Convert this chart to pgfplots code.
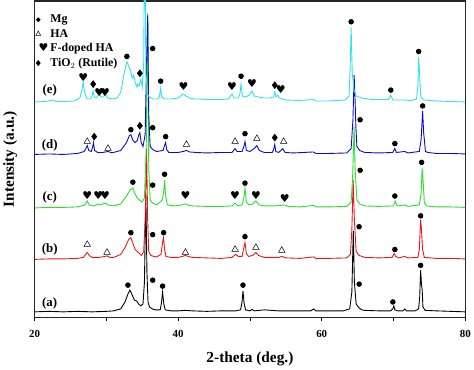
\documentclass[border=0pt]{standalone}
\usepackage{pgfplots}
\pgfplotsset{compat=1.18}
\usepackage{fontspec}
\setmainfont{Liberation Serif}
\newfontfamily\dejavu{DejaVu Sans}
\definecolor{ccyan}{RGB}{50,225,240}
\definecolor{cblue}{RGB}{10,10,205}
\definecolor{cgreen}{RGB}{40,225,40}
\definecolor{cred}{RGB}{230,25,25}
\begin{document}
\begin{tikzpicture}
\begin{axis}[
 scale only axis, width=435pt, height=320pt,
 xmin=20, xmax=80, ymin=-4, ymax=316,
 xtick={20,40,60,80}, minor xtick={30,50,70},
 ytick=\empty, xtick pos=lower,
 tick align=outside, major tick length=3pt, minor tick length=3pt,
 tick style={black, line width=0.8pt},
 axis line style={line width=1.2pt, black!85},
 ticklabel style={font=\bfseries\fontsize{11}{11}\selectfont},
 /pgf/number format/assume math mode=true,
 xlabel={2-theta (deg.)}, ylabel={Intensity (a.u.)},
 label style={font=\bfseries\fontsize{15.5}{15.5}\selectfont},
 xticklabel style={yshift=-6pt},
 xlabel style={yshift=-8pt},
 ylabel shift=11pt,
 legend style={at={(0,1)}, anchor=north west, xshift=-1pt, yshift=-10pt, draw=none, fill=none,
   font=\bfseries\fontsize{12}{12}\selectfont, cells={anchor=west},
   row sep=1pt, inner sep=2pt},
 legend image code/.code={\draw[#1, every mark/.append style={scale=0.75}] plot coordinates {(0.15cm,0cm)};},
 every axis plot/.append style={line width=0.9pt},
]
% (a) black
\addplot[black, forget plot] table[row sep=\\, y expr=\thisrowno{1}+2] {
20 0\\ 22 0.5\\ 24 0\\ 26 0.5\\ 28 0\\ 30 0.5\\ 31 1\\ 32 3\\ 32.6 10\\ 33.0 18\\ 33.27 22\\ 33.6 17\\ 33.9 12\\ 34.2 11\\ 34.5 8\\ 34.8 6\\ 35.1 8\\ 35.3 30\\ 35.5 118\\ 35.65 40\\ 35.8 10\\ 36.0 5\\ 36.4 3\\ 36.8 2\\ 37.5 2\\ 37.65 8\\ 37.83 20\\ 38.0 8\\ 38.2 2\\ 39 1\\ 40 1\\ 41 1.5\\ 42 1\\ 44 0.5\\ 46 1\\ 48 1\\ 48.7 2\\ 48.9 10\\ 49.03 21\\ 49.2 8\\ 49.4 2\\ 50.0 1\\ 50.3 2.5\\ 50.6 1\\ 52 2\\ 54 1\\ 56 1\\ 58.5 1\\ 58.85 3\\ 59.2 1\\ 61 1\\ 63 1\\ 63.9 3\\ 64.2 20\\ 64.4 82\\ 64.55 30\\ 64.8 8\\ 65.2 4\\ 65.6 2\\ 66 1.5\\ 68 1\\ 69.6 1\\ 69.9 3\\ 70.05 6\\ 70.2 2\\ 70.6 1\\ 71.3 1\\ 71.57 3\\ 71.8 1\\ 73 1\\ 73.5 3\\ 73.65 15\\ 73.78 42\\ 73.9 28\\ 74.0 22\\ 74.1 5\\ 74.4 1.5\\ 76 1\\ 78 0.5\\ 80 0\\
};
% (b) red
\addplot[cred, forget plot] table[row sep=\\, y expr=\thisrowno{1}+55] {
20 0\\ 22 0.5\\ 24 0.5\\ 26 1\\ 26.8 2\\ 27.1 5\\ 27.33 7\\ 27.6 4\\ 28 2\\ 29 2\\ 29.8 3\\ 30.1 3.5\\ 30.5 2\\ 31 2\\ 32 5\\ 32.6 12\\ 33.1 20\\ 33.41 22\\ 33.7 16\\ 34.0 10\\ 34.3 8\\ 34.6 6\\ 34.9 4\\ 35.2 8\\ 35.4 40\\ 35.6 112\\ 35.75 40\\ 35.9 8\\ 36.2 4\\ 36.6 3\\ 37 2.5\\ 37.6 5\\ 37.85 18\\ 37.97 22\\ 38.1 10\\ 38.3 3\\ 39 2\\ 40 2\\ 40.6 3\\ 41.0 4\\ 41.4 3\\ 42 2\\ 44 1.5\\ 46 1\\ 47.5 2\\ 48.0 5\\ 48.4 3\\ 48.9 3\\ 49.1 10\\ 49.31 17\\ 49.5 6\\ 49.8 3\\ 50.4 4\\ 50.83 7\\ 51.2 4\\ 52 2\\ 53 2\\ 54 2\\ 54.43 3\\ 55 1.5\\ 57 1\\ 58.85 2.5\\ 59.2 1\\ 61 1\\ 63.5 1.5\\ 64.0 5\\ 64.2 30\\ 64.38 80\\ 64.55 40\\ 64.8 8\\ 65.2 4\\ 66 2\\ 68 1.5\\ 69.8 2\\ 70.1 6\\ 70.3 3\\ 70.7 1.5\\ 71.57 3\\ 72 1.5\\ 73.4 2\\ 73.6 10\\ 73.78 40\\ 73.9 30\\ 74.05 10\\ 74.3 2\\ 76 1\\ 78 1\\ 80 0.5\\
};
% (c) green
\addplot[cgreen, forget plot] table[row sep=\\, y expr=\thisrowno{1}+107] {
20 0\\ 22 0.5\\ 24 0.5\\ 26 1\\ 27.0 3\\ 27.33 7\\ 27.6 3\\ 28.2 2\\ 28.85 4\\ 29.2 3\\ 29.5 4\\ 29.82 5\\ 30.2 3\\ 31 2\\ 32 4\\ 32.8 12\\ 33.3 18\\ 33.69 20\\ 34.0 14\\ 34.3 10\\ 34.6 8\\ 35.0 6\\ 35.3 10\\ 35.55 60\\ 35.76 197\\ 35.9 40\\ 36.1 8\\ 36.4 5\\ 37 3\\ 37.8 8\\ 38.0 18\\ 38.11 28\\ 38.25 12\\ 38.5 3\\ 39.5 2\\ 40.5 3\\ 41.0 4\\ 41.5 2.5\\ 42 2\\ 44 1.5\\ 46 1.5\\ 47.5 2\\ 47.93 5\\ 48.3 2\\ 48.9 3\\ 49.15 10\\ 49.31 20\\ 49.5 6\\ 49.9 3\\ 50.4 4\\ 50.83 7\\ 51.3 3\\ 52 2\\ 53.5 2\\ 54.84 3\\ 55.3 1.5\\ 57 1\\ 58.85 2.5\\ 59.2 1\\ 61 1\\ 63.5 1.5\\ 64.1 6\\ 64.3 30\\ 64.52 82\\ 64.65 40\\ 64.9 8\\ 65.3 4\\ 66 2\\ 68 1.5\\ 70.0 2\\ 70.25 7\\ 70.5 2\\ 71.57 3\\ 72 1.5\\ 73.6 3\\ 73.85 15\\ 74.0 40\\ 74.15 25\\ 74.3 5\\ 74.6 2\\ 76 1\\ 78 1\\ 80 0.5\\
};
% (d) blue
\addplot[cblue, forget plot] table[row sep=\\, y expr=\thisrowno{1}+161] {
20 0\\ 22 0.5\\ 24 0\\ 26 1\\ 26.9 3\\ 27.15 6\\ 27.33 9\\ 27.55 4\\ 27.9 3\\ 28.1 8\\ 28.2 12\\ 28.35 4\\ 28.8 2\\ 29.5 2\\ 30.23 3\\ 30.6 2\\ 31 2\\ 32 4\\ 32.8 12\\ 33.2 19\\ 33.41 20\\ 33.7 14\\ 34.0 12\\ 34.3 14\\ 34.52 20\\ 34.66 22\\ 34.85 12\\ 35.1 8\\ 35.4 20\\ 35.62 100\\ 35.76 141\\ 35.9 40\\ 36.1 8\\ 36.45 5\\ 37 3\\ 37.9 4\\ 38.1 9\\ 38.25 12\\ 38.4 5\\ 38.7 2\\ 40 2\\ 40.7 3\\ 41.15 4\\ 41.6 2.5\\ 42.5 2\\ 44 1.5\\ 46 2\\ 47.5 2\\ 47.93 6\\ 48.2 3\\ 48.9 3\\ 49.15 8\\ 49.31 13\\ 49.5 4\\ 50.0 3\\ 50.6 6\\ 50.97 9\\ 51.3 4\\ 52 2\\ 53.1 2\\ 53.3 5\\ 53.46 10\\ 53.6 3\\ 54.0 2\\ 54.56 6\\ 54.9 2\\ 56 1.5\\ 58.85 2.5\\ 59.2 1\\ 61 1\\ 63.5 1.5\\ 64.1 6\\ 64.35 35\\ 64.52 80\\ 64.65 55\\ 64.75 30\\ 64.9 8\\ 65.3 4\\ 66 2\\ 68 1.5\\ 69.9 2\\ 70.19 6\\ 70.4 2\\ 71.57 3\\ 72 1.5\\ 73.6 3\\ 73.85 15\\ 74.06 44\\ 74.2 22\\ 74.3 15\\ 74.45 3\\ 74.8 2\\ 76 1\\ 78 1\\ 80 0.5\\
};
% (e) cyan
\addplot[ccyan, forget plot] table[row sep=\\, y expr=\thisrowno{1}+214] {
20 0\\ 21.5 0.5\\ 22.6 2\\ 23 0.5\\ 24 0.5\\ 25.5 1\\ 26.3 4\\ 26.6 12\\ 26.77 20\\ 26.95 10\\ 27.3 3\\ 27.8 3\\ 28.0 6\\ 28.16 11\\ 28.3 5\\ 28.6 4\\ 28.99 8\\ 29.3 5\\ 29.6 5\\ 29.82 8\\ 30.2 4\\ 30.8 3\\ 31.5 4\\ 32.0 10\\ 32.5 30\\ 32.86 41\\ 33.1 36\\ 33.41 31\\ 33.6 24\\ 33.8 27\\ 34.0 20\\ 34.25 15\\ 34.38 18\\ 34.55 16\\ 34.79 23\\ 35.0 15\\ 35.2 40\\ 35.35 200\\ 35.5 30\\ 35.7 8\\ 36.0 5\\ 36.5 3\\ 37.2 3\\ 37.4 6\\ 37.56 14\\ 37.7 5\\ 38.1 3\\ 39 3\\ 40.0 4\\ 40.5 7\\ 40.74 8\\ 41.1 6\\ 41.6 4\\ 42.3 3\\ 43 3\\ 44 2.5\\ 45 2.5\\ 46 2.5\\ 47.0 3\\ 47.3 6\\ 47.51 8\\ 47.8 4\\ 48.4 4\\ 48.6 8\\ 48.76 18\\ 48.95 6\\ 49.4 5\\ 49.9 7\\ 50.28 11\\ 50.6 6\\ 51.2 5\\ 52 4\\ 52.8 4\\ 53.3 5\\ 53.46 10\\ 53.65 5\\ 53.87 7\\ 54.1 4\\ 55 2\\ 57 1.5\\ 58.85 2.5\\ 59.2 1\\ 61 1\\ 63.3 2\\ 63.8 6\\ 63.95 30\\ 64.1 75\\ 64.25 30\\ 64.5 12\\ 64.8 6\\ 65.5 4\\ 67 2.5\\ 69.3 2.5\\ 69.63 7\\ 69.9 2\\ 71.3 2\\ 72.5 1.5\\ 73.2 3\\ 73.4 15\\ 73.51 45\\ 73.65 25\\ 73.8 5\\ 74.2 2\\ 76 1\\ 78 0.5\\ 80 0\\
};
% markers
\addplot[only marks, mark=*, black, mark size=2.3pt] coordinates {
(33.0,29) (36.45,34) (37.83,28) (49.03,29) (65.21,30) (69.91,12) (73.78,49)
(33.41,82) (36.45,80) (37.97,82) (49.31,78) (65.21,88) (70.19,65) (73.78,99)
(33.69,133) (36.45,130) (38.11,141) (49.31,132) (65.35,145) (70.19,119) (73.92,153)
(33.41,186) (36.45,188) (38.25,179) (49.31,182) (65.35,196) (70.19,172) (74.06,210)
(32.86,260) (36.45,268) (37.56,235) (48.76,240) (64.1,295) (69.63,226) (73.51,265)
};
\addlegendentry{Mg}
\addplot[only marks, mark=triangle, black, mark size=3.8pt, mark options={line width=0.5pt}] coordinates {
(27.33,70) (30.09,62) (41.01,62) (47.93,65) (50.83,67) (54.43,64)
(27.33,174) (30.23,167) (41.15,171) (47.93,174) (50.97,177) (54.7,174)
};
\addlegendentry{HA}
\addplot[only marks, mark=text, black, text mark={\dejavu\char"2665}, text mark as node=true,
  text mark style={font=\fontsize{11}{11}\selectfont, inner sep=0pt}] coordinates {
(27.33,119) (28.85,119) (29.82,119) (41.01,119) (47.93,119) (50.83,119) (54.84,116)
(26.77,239) (28.99,224) (29.82,224) (40.74,230) (47.51,230) (50.28,233) (54.29,227)
};
\addlegendentry{F-doped HA}
\addplot[only marks, mark=diamond*, black, mark size=3.2pt] coordinates {
(28.3,179) (34.66,190) (53.46,178)
(28.16,232) (34.66,243) (53.46,231)
};
\addlegendentry{TiO$_2$ (Rutile)}
\node[font=\bfseries\fontsize{13}{13}\selectfont] at (axis cs:22.1,11) {(a)};
\node[font=\bfseries\fontsize{13}{13}\selectfont] at (axis cs:22.1,65) {(b)};
\node[font=\bfseries\fontsize{13}{13}\selectfont] at (axis cs:22.1,118) {(c)};
\node[font=\bfseries\fontsize{13}{13}\selectfont] at (axis cs:22.1,170) {(d)};
\node[font=\bfseries\fontsize{13}{13}\selectfont] at (axis cs:22.1,226) {(e)};
\end{axis}
\path (current axis.south west) ++(-33pt,-46pt);
\path (current axis.north east) ++(6pt,1pt);
\end{tikzpicture}
\end{document}
